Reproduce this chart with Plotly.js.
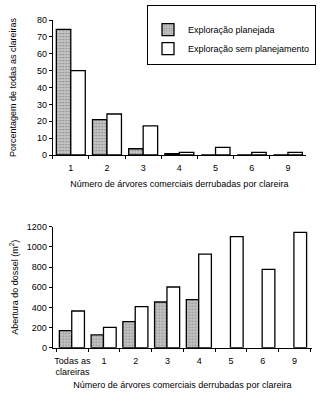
<!DOCTYPE html>
<html><head><meta charset="utf-8">
<script src="https://cdn.plot.ly/plotly-3.0.1.min.js"></script>
<style>html,body{margin:0;padding:0;background:#fff}#g{width:325px;height:400px}</style>
</head><body><div id="g"></div>
<script>
// Top chart: percentage of all gaps
const topCats = ["1","2","3","4","5","6","9"];
const topPlanned = [74.5, 21, 3.7, 0.8, 0, 0, 0];
const topUnplanned = [50, 24.3, 17.2, 1.6, 4.5, 1.6, 1.6];
// Bottom chart: canopy opening (m²)
const botCats = ["Todas as<br>clareiras","1","2","3","4","5","6","9"];
const botPlanned = [169, 127, 258, 453, 476, null, null, null];
const botUnplanned = [364, 202, 407, 602, 929, 1101, 777, 1144];

const seriesNames = ["Exploração planejada", "Exploração sem planejamento"];
const FONT = "Liberation Sans, Arial, sans-serif";
const FS = 9;
const grayMarker = {color: "#b5b5b5", line: {color: "#000", width: 1.3},
  pattern: {shape: ".", fgcolor: "#8a8a8a", bgcolor: "#c4c4c4", size: 3, solidity: 0.25}};
const whiteMarker = {color: "#fff", line: {color: "#000", width: 1.3}};

const traces = [
  {type: "bar", x: topCats, y: topPlanned, name: seriesNames[0], marker: grayMarker, xaxis: "x", yaxis: "y"},
  {type: "bar", x: topCats, y: topUnplanned, name: seriesNames[1], marker: whiteMarker, xaxis: "x", yaxis: "y"},
  {type: "bar", x: botCats, y: botPlanned, name: seriesNames[0], marker: grayMarker, xaxis: "x2", yaxis: "y2", showlegend: false, width: 0.39, offset: -0.41},
  {type: "bar", x: botCats, y: botUnplanned, name: seriesNames[1], marker: whiteMarker, xaxis: "x2", yaxis: "y2", showlegend: false, width: 0.4, offset: -0.02}
];

const axCommon = {showline: true, linecolor: "#000", linewidth: 1, ticks: "outside", ticklen: 3, tickcolor: "#000",
  showgrid: false, zeroline: false, automargin: true, tickfont: {family: FONT, size: FS, color: "#000"}, fixedrange: true};
// inner halves of the crossing tick marks
const innerTick = {showline: false, ticks: "inside", ticklen: 2, tickcolor: "#000", showgrid: false, zeroline: false,
  showticklabels: false, automargin: false, fixedrange: true};
const titleFont = {family: FONT, size: FS, color: "#000"};

const topDomX = [52.7/325, 306/325], topDomY = [1 - 155/400, 1 - 20/400];
const botDomX = [52.7/325, 312/325], botDomY = [1 - 347.7/400, 1 - 226.7/400];
const topRangeX = [-0.5, topCats.length - 0.5], botRangeX = [-0.62, botCats.length - 0.45];

const layout = {
  width: 325, height: 400, margin: {l: 0, r: 0, t: 0, b: 0, autoexpand: false},
  paper_bgcolor: "#fff", plot_bgcolor: "#fff",
  font: {family: FONT, size: FS, color: "#000"},
  barmode: "group", bargap: 0.2, bargroupgap: 0,
  showlegend: true,
  legend: {x: 316/325, y: 1 - 5/400, xanchor: "right", yanchor: "top", bordercolor: "#000", borderwidth: 1,
    bgcolor: "#fff", font: {family: FONT, size: FS, color: "#000"}, itemwidth: 30, tracegroupgap: 0,
    title: {text: "&nbsp;", font: {family: FONT, size: 7}}},
  xaxis: Object.assign({}, axCommon, {domain: topDomX, anchor: "y", type: "category",
    range: topRangeX, tickson: "boundaries", tickangle: 0, ticklabelstandoff: 4,
    title: {text: "Número de árvores comerciais derrubadas por clareira", font: titleFont, standoff: 8}}),
  yaxis: Object.assign({}, axCommon, {domain: topDomY, anchor: "x", range: [0, 80], dtick: 10,
    title: {text: "Porcentagem de todas as clareiras", font: titleFont, standoff: 18}}),
  xaxis2: Object.assign({}, axCommon, {domain: botDomX, anchor: "y2", type: "category",
    range: botRangeX, tickson: "boundaries", tickangle: 0, ticklabelstandoff: 4,
    title: {text: "Número de árvores comerciais derrubadas por clareira", font: titleFont, standoff: 5}}),
  yaxis2: Object.assign({}, axCommon, {domain: botDomY, anchor: "x2", range: [0, 1200], dtick: 200,
    title: {text: "Abertura do dossel (m<sup>2</sup>)", font: titleFont, standoff: 6}}),
  // overlay axes drawing the inner part of the ticks
  xaxis3: Object.assign({}, innerTick, {domain: topDomX, anchor: "y", overlaying: "x", range: topRangeX,
    tickmode: "array", tickvals: topCats.map((_, i) => i + 0.5)}),
  yaxis3: Object.assign({}, innerTick, {domain: topDomY, anchor: "x", overlaying: "y", range: [0, 80], dtick: 10}),
  xaxis4: Object.assign({}, innerTick, {domain: botDomX, anchor: "y2", overlaying: "x2", range: botRangeX,
    tickmode: "array", tickvals: botCats.map((_, i) => i + 0.5)}),
  yaxis4: Object.assign({}, innerTick, {domain: botDomY, anchor: "x2", overlaying: "y2", range: [0, 1200], dtick: 200})
};

Plotly.newPlot("g", traces, layout, {displayModeBar: false, staticPlot: true});
</script></body></html>
